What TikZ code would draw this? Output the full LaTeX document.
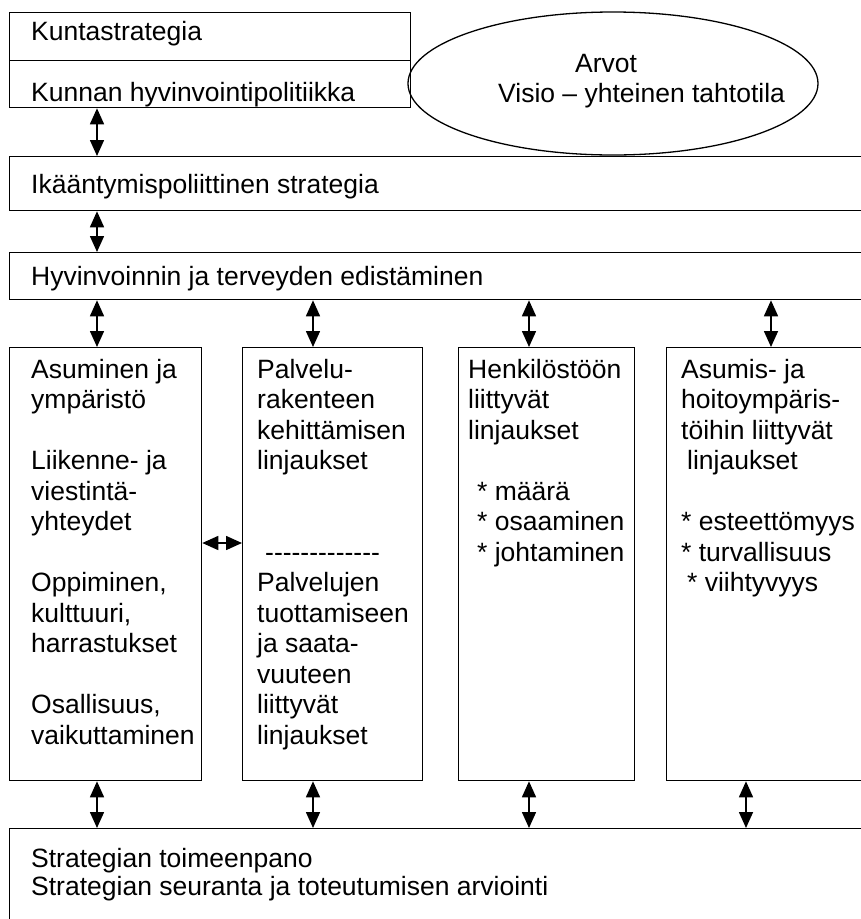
\documentclass[tikz,border=0pt]{standalone}
\usepackage{fontspec}
\setmainfont{Liberation Sans}
\usetikzlibrary{arrows.meta,shapes.geometric}
\newcommand\mylines[1]{\begin{tabular}[t]{@{}l@{}}#1\end{tabular}}
\newcommand\hy{\mbox{-}}
\begin{document}
\begin{tikzpicture}[x=1pt,y=-1pt,
  box/.style={draw, line width=1.3pt, rectangle, inner sep=0pt, anchor=north west},
  txt/.style={inner sep=0pt, anchor=base west, font=\fontsize{26.5pt}{30.5pt}\selectfont},
  dbl/.style={line width=1.6pt, {Triangle[length=16pt,width=14pt]}-{Triangle[length=16pt,width=14pt]}}]
\useasboundingbox (0,0) rectangle (861,919);
\clip (0,0) rectangle (861,919);
% boxes
\node[box, minimum width=401pt, minimum height=48pt] (kunta) at (9,12) {};
\node[box, minimum width=401pt, minimum height=47pt] (hyvpol) at (9,60) {};
\node[draw, ellipse, line width=1.3pt, minimum width=410pt, minimum height=143pt, inner sep=0pt] (arvot) at (613,83.5) {};
\node[box, minimum width=900pt, minimum height=54pt] (ika) at (9,156) {};
\node[box, minimum width=900pt, minimum height=47pt] (hyv) at (9,252) {};
\node[box, minimum width=192pt, minimum height=433pt] (col1) at (9,347) {};
\node[box, minimum width=180pt, minimum height=433pt] (col2) at (242,347) {};
\node[box, minimum width=176pt, minimum height=433pt] (col3) at (458,347) {};
\node[box, minimum width=300pt, minimum height=433pt] (col4) at (666,347) {};
\node[box, minimum width=900pt, minimum height=200pt] (bot) at (9,828) {};
% arrow positions
\coordinate (xa) at (97,0);
\coordinate (xb) at (313,0);
\coordinate (xc) at (529,0);
\coordinate (xd) at (771,0);
\coordinate (xe) at (746,0);
\coordinate (ya) at (0,543);
\draw[dbl] (hyvpol.south -| xa) -- (ika.north -| xa);
\draw[dbl] (ika.south -| xa) -- (hyv.north -| xa);
\draw[dbl] (hyv.south -| xa) -- (col1.north -| xa);
\draw[dbl] (hyv.south -| xb) -- (col2.north -| xb);
\draw[dbl] (hyv.south -| xc) -- (col3.north -| xc);
\draw[dbl] (hyv.south -| xd) -- (col4.north -| xd);
\draw[dbl] (col1.south -| xa) -- (bot.north -| xa);
\draw[dbl] (col2.south -| xb) -- (bot.north -| xb);
\draw[dbl] (col3.south -| xc) -- (bot.north -| xc);
\draw[dbl] (col4.south -| xe) -- (bot.north -| xe);
\draw[dbl] (col1.east |- ya) -- (col2.west |- ya);
% texts
\node[txt] (t1) at (31,40) {Kuntastrategia};
\node[txt] (t2) at (31,101) {Kunnan hyvinvointipolitiikka};
\node[txt] (t3) at (575,72) {Arvot};
\node[txt] (t4) at (498,102) {Visio – yhteinen tahtotila};
\node[txt] (t5) at (31,193) {Ikääntymispoliittinen strategia};
\node[txt] (t6) at (31,285) {Hyvinvoinnin ja terveyden edistäminen};
\node[txt] (c1) at (31,378) {\mylines{Asuminen ja\\ ympäristö\\ \\ Liikenne- ja\\ viestintä-\\ yhteydet\\ \\ Oppiminen,\\ kulttuuri,\\ harrastukset\\ \\ Osallisuus,\\ vaikuttaminen}};
\node[txt] (c2) at (257,378) {\mylines{Palvelu-\\ rakenteen\\ kehittämisen\\ linjaukset\\ \\ \\ \hspace{8pt}\hy\hy\hy\hy\hy\hy\hy\hy\hy\hy\hy\hy\hy\\ Palvelujen\\ tuottamiseen\\ ja saata-\\ vuuteen\\ liittyvät\\ linjaukset}};
\node[txt] (c3) at (468,378) {\mylines{Henkilöstöön\\ liittyvät\\ linjaukset\\ \\ \hspace{9pt}{*} määrä\\ \hspace{9pt}{*} osaaminen\\ \hspace{9pt}{*} johtaminen}};
\node[txt] (c4) at (681,378) {\mylines{Asumis- ja\\ hoitoympäris-\\ töihin liittyvät\\ \hspace{6pt}linjaukset\\ \\ {*} esteettömyys\\ {*} turvallisuus\\ \hspace{6pt}{*} viihtyvyys}};
\node[txt] (b1) at (31,867) {Strategian toimeenpano};
\node[txt] (b2) at (31,895) {Strategian seuranta ja toteutumisen arviointi};
\end{tikzpicture}
\end{document}
